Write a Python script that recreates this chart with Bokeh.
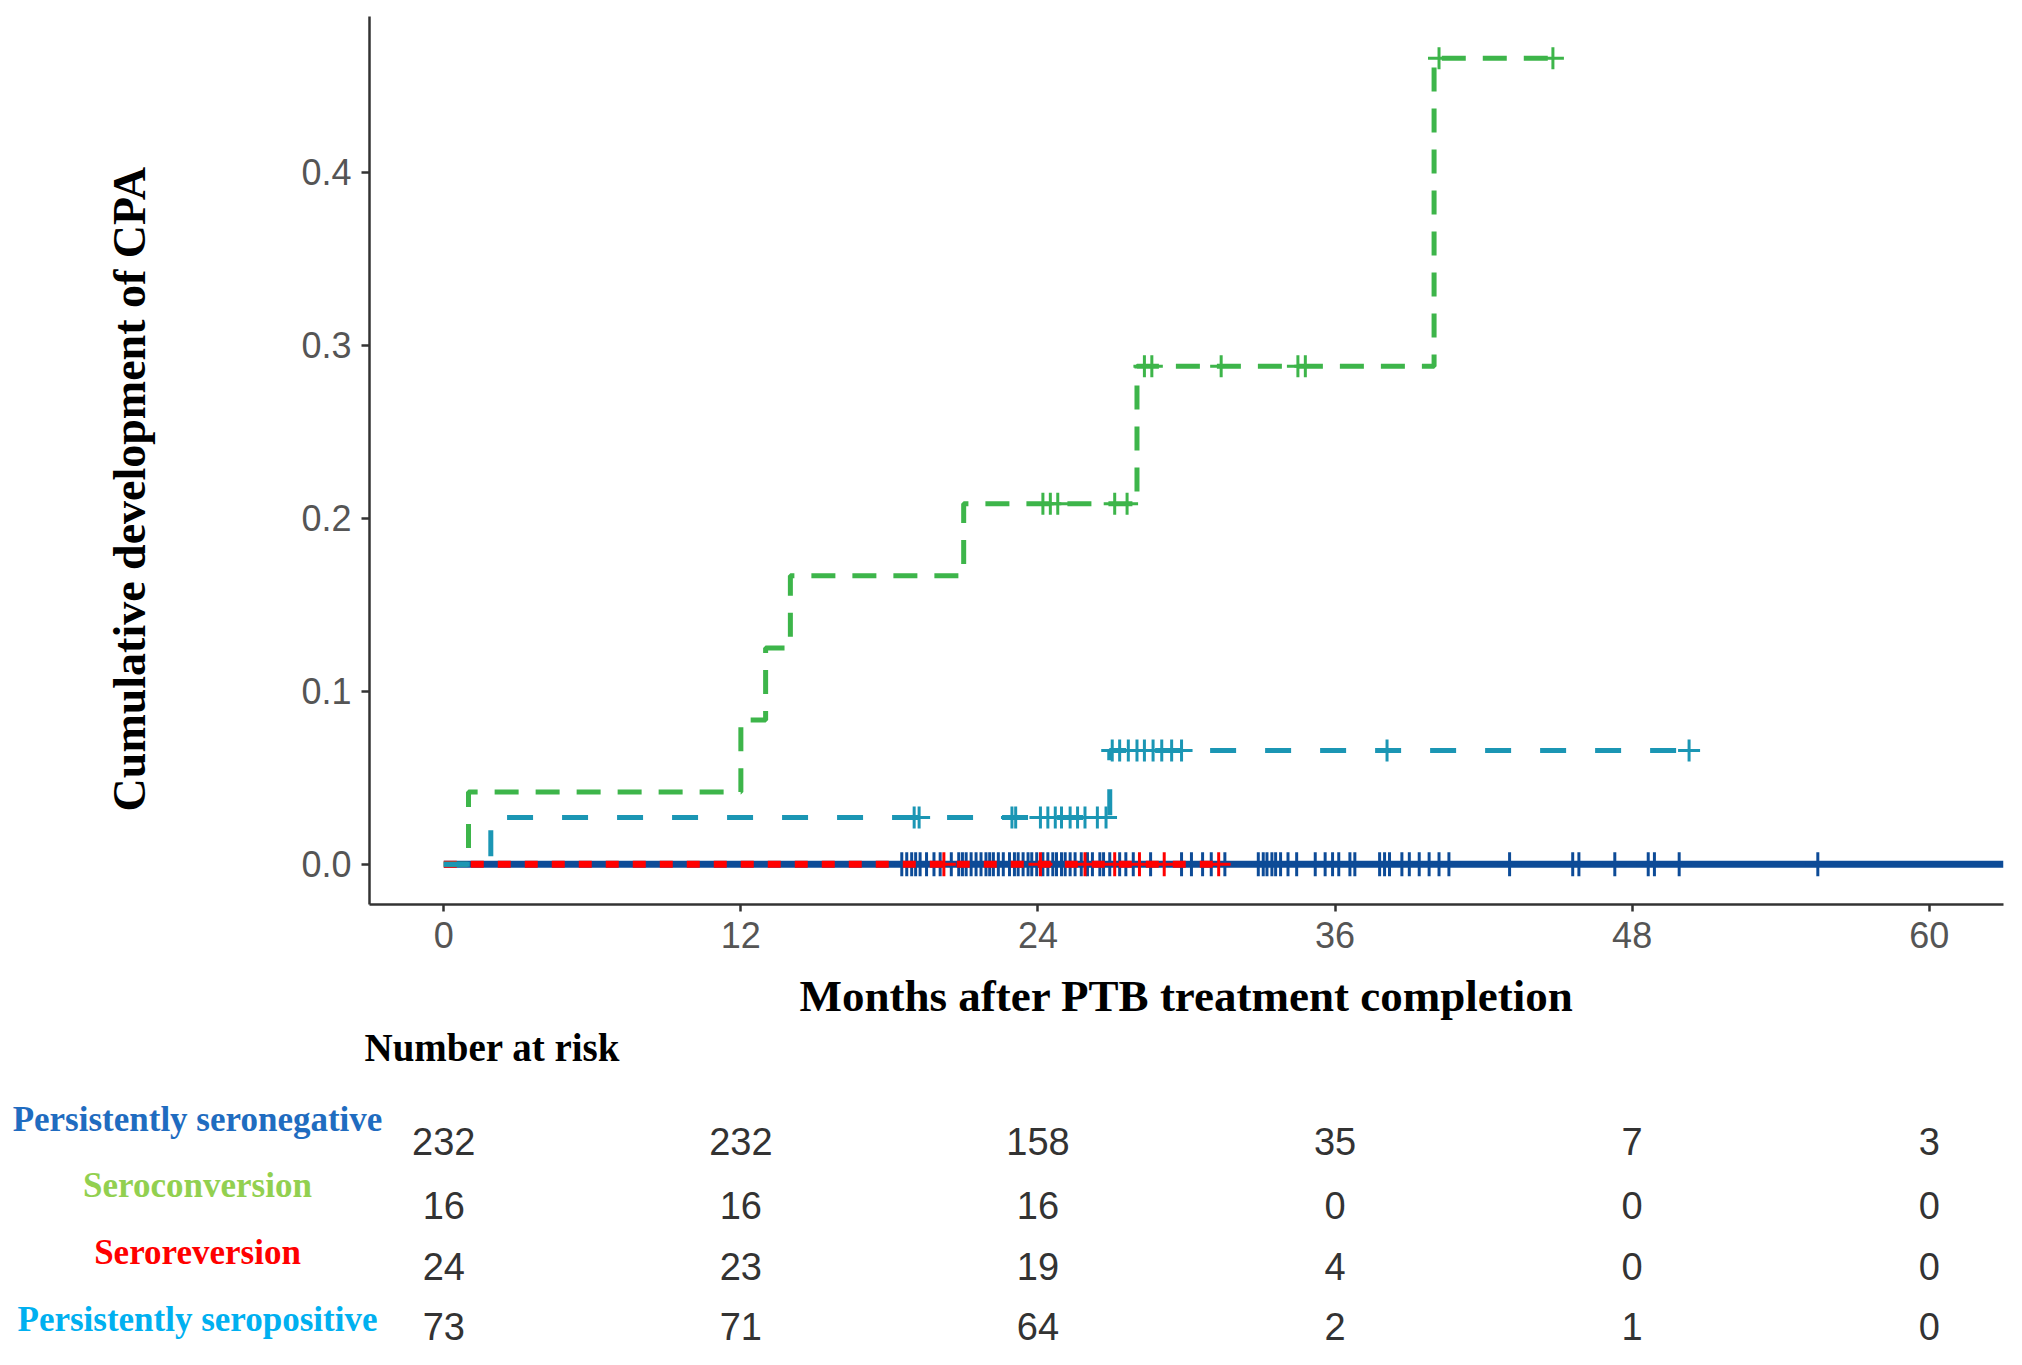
import numpy as np
from bokeh.plotting import figure
from bokeh.models import (Range1d, FixedTicker, NumeralTickFormatter,
                          ColumnDataSource, Title)
from bokeh.core.properties import value
from bokeh.embed import file_html
from bokeh.resources import INLINE

# ---------------- data ----------------
# Seroconversion (green)
conv_t = [0, 1, 12, 13, 14, 21, 28, 40, 45]
conv_y = [0, 0.0417, 0.0833, 0.125, 0.1667, 0.2083, 0.2878, 0.4659, 0.4659]
conv_cens_t = [24.2, 24.5, 24.8, 27.1, 27.6, 28.3, 28.6, 31.4, 34.5, 34.8, 40.2, 44.8]

# Persistently seropositive (teal)
pos_t = [0, 1.9, 26.9, 50.3]
pos_y = [0, 0.027, 0.0657, 0.0657]
pos_cens_t = [19.0, 19.2, 22.95, 23.1, 24.1, 24.4, 24.7, 24.95, 25.3, 25.6, 25.9,
              26.4, 26.75, 27.0, 27.3, 27.65, 28.0, 28.3, 28.65, 29.0, 29.4, 29.8,
              38.1, 50.3]

# Seroreversion (red)
rev_t = [0, 31.3]
rev_y = [0, 0]
rev_cens_t = [20.2, 24.1, 25.9, 27.1, 28.1, 29.1, 31.3]

# Persistently seronegative (dark blue)
neg_t = [0, 63]
neg_y = [0, 0]
neg_cens_t = [18.5, 18.7, 18.9, 19.06, 19.24, 19.5, 19.8, 20.05, 20.5, 20.8, 20.95,
              21.1, 21.3, 21.5, 21.7, 21.9, 22.05, 22.2, 22.4, 22.6, 22.85, 23.05,
              23.2, 23.4, 23.6, 23.75, 23.95, 24.2, 24.4, 24.6, 24.75, 24.95, 25.1,
              25.3, 25.5, 25.75, 26.0, 26.2, 26.5, 26.65, 26.9, 27.3, 27.55, 27.85,
              28.55, 29.8, 30.2, 30.65, 31.0, 31.55, 32.9, 33.1, 33.25, 33.45, 33.6,
              33.8, 34.1, 34.45, 35.2, 35.6, 35.9, 36.15, 36.6, 36.8, 37.8, 38.0,
              38.2, 38.7, 39.0, 39.4, 39.8, 40.2, 40.6, 43.05, 45.6, 45.85, 47.3,
              48.65, 48.9, 49.9, 55.5]

# Number at risk table
groups = ["Persistently seronegative", "Seroconversion", "Seroreversion",
          "Persistently seropositive"]
risk_times = [0, 12, 24, 36, 48, 60]
risk_seroneg = [232, 232, 158, 35, 7, 3]
risk_seroconv = [16, 16, 16, 0, 0, 0]
risk_serorev = [24, 23, 19, 4, 0, 0]
risk_seropos = [73, 71, 64, 2, 1, 0]

x_ticks = [0, 12, 24, 36, 48, 60]
y_ticks = [0.0, 0.1, 0.2, 0.3, 0.4]

# ---------------- style ----------------
C_NEG = "#0d4b97"
C_CONV = "#3db54a"
C_REV = "#ff0000"
C_POS = "#1b96b4"
LABEL_COLORS = ["#1f6cc0", "#92d050", "#ff0000", "#00b0f0"]

FRAME_L, FRAME_R, FRAME_T = 369, 10, 16
FRAME_W, FRAME_H = 1634, 888
MAIN_H = 1084
TOTAL_W = FRAME_L + FRAME_W + FRAME_R

X0, X1 = -3, 63
Y0, Y1 = -0.0233, 0.49
NBSP = "\u00a0"


def step_value(ts, ys, t):
    idx = np.searchsorted(np.asarray(ts), np.asarray(t), side="right") - 1
    return list(np.asarray(ys)[idx])


p = figure(frame_width=FRAME_W, frame_height=FRAME_H,
           min_border_left=FRAME_L, min_border_right=FRAME_R,
           min_border_top=FRAME_T, min_border_bottom=MAIN_H - FRAME_T - FRAME_H,
           x_range=Range1d(X0, X1), y_range=Range1d(Y0, Y1),
           toolbar_location=None, output_backend="svg")
p.outline_line_color = None
p.xgrid.grid_line_color = None
p.ygrid.grid_line_color = None
p.background_fill_color = "white"
p.border_fill_color = "white"

# curves (drawing order: blue, red, green, teal)
p.step(neg_t, neg_y, mode="after", line_color=C_NEG, line_width=7)
p.scatter(neg_cens_t, step_value(neg_t, neg_y, neg_cens_t), marker="cross",
          size=24, line_color=C_NEG, line_width=3)

p.step(rev_t, rev_y, mode="after", line_color=C_REV, line_width=7,
       line_dash="13 14")
p.scatter(rev_cens_t, step_value(rev_t, rev_y, rev_cens_t), marker="cross",
          size=24, line_color=C_REV, line_width=3)

p.step(conv_t, conv_y, mode="after", line_color=C_CONV, line_width=5,
       line_dash="24 17")
p.scatter(conv_cens_t, step_value(conv_t, conv_y, conv_cens_t), marker="cross",
          size=22, line_color=C_CONV, line_width=3)

p.step(pos_t, pos_y, mode="after", line_color=C_POS, line_width=5,
       line_dash="26 29")
p.scatter(pos_cens_t, step_value(pos_t, pos_y, pos_cens_t), marker="cross",
          size=22, line_color=C_POS, line_width=3)

# axes
for ax in (p.xaxis[0], p.yaxis[0]):
    ax.axis_line_color = "#333333"
    ax.axis_line_width = 2.5
    ax.major_tick_line_color = "#333333"
    ax.major_tick_line_width = 2.5
    ax.minor_tick_line_color = None
    ax.major_tick_in = 0
    ax.major_label_text_font = "Liberation Sans"
    ax.major_label_text_font_size = "36px"
    ax.major_label_text_color = "#555555"
    ax.axis_label_text_font = "Liberation Serif"
    ax.axis_label_text_font_style = "bold"
    ax.axis_label_text_color = "black"

p.xaxis.ticker = FixedTicker(ticks=x_ticks)
p.yaxis.ticker = FixedTicker(ticks=y_ticks)
p.yaxis.formatter = NumeralTickFormatter(format="0.0")
p.xaxis.major_tick_out = 7
p.yaxis.major_tick_out = 8
p.xaxis.major_label_standoff = 10
p.yaxis.major_label_standoff = 10
p.xaxis.axis_label = "Months after PTB treatment completion"
p.yaxis.axis_label = "Cumulative development of CPA" + NBSP * 5
p.xaxis.axis_label_text_font_size = "45px"
p.yaxis.axis_label_text_font_size = "46px"
p.xaxis.axis_label_standoff = 20
p.yaxis.axis_label_standoff = 143

# "Number at risk" header as a title below the x axis (not clipped)
HEADER_X_PX = 364
p.add_layout(Title(text="Number at risk", align="left",
                   offset=HEADER_X_PX - FRAME_L, standoff=0,
                   text_font="Liberation Serif", text_font_style="bold",
                   text_font_size="39px", text_color="black"), "below")

# ---------------- risk table (separate root, full-width frame) ----------------
H2 = 1365 - MAIN_H
ROW_Y = [56.8, 121.4, 182.2, 241.6]       # row centres, px from table top
LABEL_Y = [34.9, 100.8, 168.0, 235.1]     # group label centres, px from table top
LABEL_CX_PX = 197                          # centre of group labels, px from left

ppm = FRAME_W / (X1 - X0)
tx0 = X0 - FRAME_L / ppm
tx1 = X1 + FRAME_R / ppm

t = figure(width=TOTAL_W, height=H2, x_range=Range1d(tx0, tx1),
           y_range=Range1d(H2, 0), min_border=0,
           x_axis_location=None, y_axis_location=None,
           toolbar_location=None, output_backend="svg")
t.outline_line_color = None
t.xgrid.grid_line_color = None
t.ygrid.grid_line_color = None

all_risk = [risk_seroneg, risk_seroconv, risk_serorev, risk_seropos]
for i, (g, vals) in enumerate(zip(groups, all_risk)):
    src = ColumnDataSource(dict(x=risk_times, y=[ROW_Y[i]] * len(risk_times),
                                txt=[str(v) for v in vals]))
    t.text(x="x", y="y", text="txt", source=src,
           text_font=value("Liberation Sans"), text_font_size="38px",
           text_color="#333333", text_align="center", text_baseline="middle")
    t.text(x=[tx0 + LABEL_CX_PX / ppm], y=[LABEL_Y[i]], text=[g],
           text_font=value("Liberation Serif"), text_font_style="bold",
           text_font_size="35px", text_color=LABEL_COLORS[i],
           text_align="center", text_baseline="middle")

open("out.html", "w").write(file_html([p, t], INLINE))
